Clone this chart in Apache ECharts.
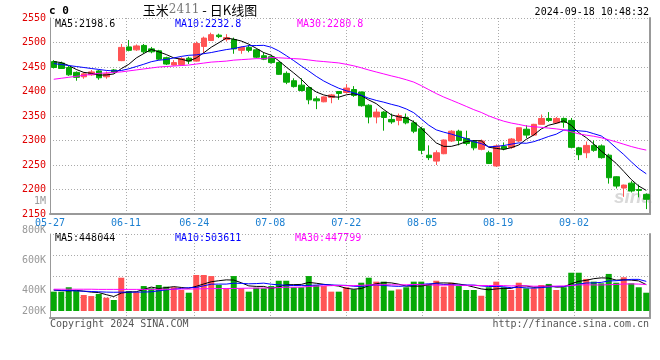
<!DOCTYPE html>
<html><head><meta charset="utf-8">
<script src="https://cdn.jsdelivr.net/npm/echarts@6/dist/echarts.min.js"></script>
<style>html,body{margin:0;padding:0;background:#fff}#c{width:660px;height:360px}</style>
</head><body><div id="c"></div>
<script>
const dates = ['05-27','05-28','05-29','05-30','05-31','06-03','06-04','06-05','06-06','06-07',
'06-11','06-12','06-13','06-14','06-17','06-18','06-19','06-20','06-21','06-24',
'06-25','06-26','06-27','06-28','07-01','07-02','07-03','07-04','07-05','07-08',
'07-09','07-10','07-11','07-12','07-15','07-16','07-17','07-18','07-19','07-22',
'07-23','07-24','07-25','07-26','07-29','07-30','07-31','08-01','08-02','08-05',
'08-06','08-07','08-08','08-09','08-12','08-13','08-14','08-15','08-16','08-19',
'08-20','08-21','08-22','08-23','08-26','08-27','08-28','08-29','08-30','09-02',
'09-03','09-04','09-05','09-06','09-09','09-10','09-11','09-12','09-13','09-18'];
const opens = [2461,2458,2449,2439,2430,2434,2442,2430,2444,2463,
2491,2485,2494,2487,2483,2469,2454,2455,2468,2462,
2492,2504,2515,2506,2506,2484,2490,2485,2473,2471,
2459,2437,2422,2413,2408,2385,2379,2388,2400,2398,
2404,2399,2372,2348,2358,2343,2341,2347,2336,2324,
2270,2258,2273,2299,2319,2304,2298,2282,2275,2248,
2288,2286,2299,2323,2311,2333,2345,2336,2345,2341,
2285,2275,2290,2289,2270,2226,2203,2213,2200,2190];
const closes = [2449,2447,2434,2429,2436,2440,2428,2436,2439,2490,
2484,2493,2481,2481,2466,2456,2459,2467,2462,2498,
2509,2516,2512,2510,2487,2490,2484,2470,2466,2459,
2435,2419,2410,2402,2383,2381,2389,2393,2396,2407,
2392,2371,2348,2358,2347,2338,2351,2336,2319,2280,
2265,2275,2301,2319,2300,2294,2285,2299,2253,2289,
2283,2303,2326,2311,2333,2345,2341,2345,2337,2286,
2271,2290,2280,2265,2224,2207,2209,2197,2198,2180];
const lows = [2447,2446,2432,2422,2426,2432,2424,2426,2437,2462,
2482,2483,2477,2478,2464,2454,2453,2453,2456,2461,
2478,2503,2509,2502,2477,2477,2480,2468,2464,2457,
2434,2415,2408,2400,2374,2364,2378,2376,2383,2396,
2389,2369,2335,2335,2320,2334,2331,2333,2315,2272,
2260,2250,2272,2297,2290,2290,2280,2280,2252,2246,
2280,2283,2297,2305,2309,2333,2338,2334,2326,2284,
2260,2264,2277,2263,2212,2202,2185,2194,2184,2160];
const highs = [2464,2461,2452,2441,2439,2444,2444,2441,2446,2497,
2505,2496,2497,2491,2485,2471,2464,2470,2471,2502,
2512,2520,2518,2517,2510,2492,2495,2487,2480,2475,
2461,2441,2427,2427,2410,2390,2390,2395,2401,2415,
2411,2400,2374,2365,2360,2355,2355,2355,2341,2328,
2290,2280,2302,2321,2322,2320,2301,2302,2279,2292,
2296,2305,2326,2331,2334,2353,2358,2348,2347,2346,
2287,2298,2300,2292,2273,2227,2210,2217,2210,2192];
const volumes = [393000,393000,422000,400000,371000,364000,378000,353000,338000,485000,
397000,389000,430000,415000,437000,426000,422000,404000,386000,503000,
503000,496000,437000,415000,496000,415000,393000,419000,415000,430000,
465000,465000,422000,422000,496000,437000,430000,393000,393000,422000,
408000,452000,485000,459000,459000,400000,408000,422000,459000,459000,
444000,465000,426000,452000,430000,404000,404000,366000,422000,459000,
422000,404000,452000,415000,415000,437000,444000,404000,422000,518000,
518000,477000,459000,448000,510000,452000,488000,448000,422000,386000];
// moving-average values before the window is full
const ma5Head = [2461,2459,2453,2445];
const ma10Head = [2457,2455,2453,2451,2449,2447,2445,2443,2442];
const ma30Head = [2425,2427,2429,2431,2433,2435,2437,2438,2439,2440,2442,2444,2446,2448,2450,2451,2452,2453,2454,2456,2458,2460,2461,2462,2464,2465,2466,2467,2467];
const vma5Head = [404000,400000,398000,402000];
const vma10Head = [404000,402000,400000,398000,396000,394000,392000,390000,389000];
const vma30Head = [409000,409000,409000,409000,409000,409000,408000,408000,408000,408000,408000,408000,408000,408000,408000,409000,409000,410000,410000,411000,412000,413000,413000,414000,414000,415000,416000,416000,417000];
const tickDates = ['05-27','06-11','06-24','07-08','07-22','08-05','08-19','09-02'];
const volLabelValues = [400000,600000,800000];
const maLabels = ['MA5:2198.6','MA10:2232.8','MA30:2280.8'];
const volMaLabels = ['MA5:448044','MA10:503611','MA30:447799'];

function movingAvg(arr, n, head, digits){
  return arr.map((_, i) => {
    if (i < n - 1) return head[i];
    let s = 0; for (let k = i - n + 1; k <= i; k++) s += arr[k];
    return +(s / n).toFixed(digits);
  });
}
const candles = dates.map((d, i) => [opens[i], closes[i], lows[i], highs[i]]);
const UP = '#ff5454', DOWN = '#06a806';
const MONO = '"DejaVu Sans Mono", monospace';
const tickIdx = new Set(tickDates.map(d => dates.indexOf(d)));
const showTick = (i) => tickIdx.has(i);
const dotted = {color:'#aaa', type:[1,2], width:1};

const chart = echarts.init(document.getElementById('c'), null, {renderer:'canvas'});
chart.setOption({
  animation:false,
  backgroundColor:'#fff',
  grid:[
    {left:50, top:18, width:600, height:196},
    {left:50, top:230, width:600, height:81},
    {left:50, top:234, width:600, height:84}
  ],
  xAxis:[
    {type:'category', gridIndex:0, data:dates, boundaryGap:true, show:false},
    {type:'category', gridIndex:0, data:dates, boundaryGap:false, position:'bottom',
      axisLine:{show:true, lineStyle:{color:'#999', width:2}}, axisTick:{show:false},
      axisLabel:{interval:(i)=>showTick(i), color:'#1b7fd1', fontFamily:MONO, fontSize:10, margin:4},
      splitLine:{show:true, interval:(i)=>showTick(i), lineStyle:dotted}},
    {type:'category', gridIndex:1, data:dates, boundaryGap:true, show:false},
    {type:'category', gridIndex:2, data:dates, boundaryGap:false, position:'bottom',
      axisLine:{show:true, lineStyle:{color:'#999', width:2}}, axisTick:{show:false},
      axisLabel:{show:false},
      splitLine:{show:true, interval:(i)=>showTick(i), lineStyle:dotted}}
  ],
  yAxis:[
    {type:'value', gridIndex:0, min:2150, max:2550, interval:50, position:'left',
      axisLine:{show:true, lineStyle:{color:'#999'}}, axisTick:{show:false},
      axisLabel:{formatter:(v)=>String(v), color:'#e00000', fontFamily:MONO, fontSize:10, margin:4},
      splitLine:{show:true, lineStyle:dotted}},
    {type:'value', gridIndex:0, min:2150, max:2550, position:'right',
      axisLine:{show:true, lineStyle:{color:'#999', width:2}}, axisTick:{show:false},
      axisLabel:{show:false}, splitLine:{show:false}},
    {type:'value', gridIndex:1, min:265300, max:800000, position:'left',
      axisLine:{show:false}, axisTick:{show:false}, splitLine:{show:false},
      axisLabel:{customValues:volLabelValues, formatter:(v)=>Math.round(v/1000)+'K', color:'#999', fontFamily:MONO, fontSize:10, margin:4}},
    {type:'value', gridIndex:2, min:0, max:4, interval:1, position:'left',
      axisLine:{show:true, lineStyle:{color:'#999'}}, axisTick:{show:false},
      axisLabel:{show:false}, splitLine:{show:true, lineStyle:dotted}},
    {type:'value', gridIndex:2, min:0, max:4, position:'right',
      axisLine:{show:true, lineStyle:{color:'#999', width:2}}, axisTick:{show:false},
      axisLabel:{show:false}, splitLine:{show:false}}
  ],
  series:[
    {type:'candlestick', xAxisIndex:0, yAxisIndex:0, data:candles, barWidth:6,
      itemStyle:{color:UP, color0:DOWN, borderColor:UP, borderColor0:DOWN, borderWidth:1}},
    {type:'line', xAxisIndex:0, yAxisIndex:0, data:movingAvg(closes,5,ma5Head,1), symbol:'none', lineStyle:{color:'#000', width:1}},
    {type:'line', xAxisIndex:0, yAxisIndex:0, data:movingAvg(closes,10,ma10Head,1), symbol:'none', lineStyle:{color:'#0000ff', width:1}},
    {type:'line', xAxisIndex:0, yAxisIndex:0, data:movingAvg(closes,30,ma30Head,1), symbol:'none', lineStyle:{color:'#ff00ff', width:1}},
    {type:'bar', xAxisIndex:2, yAxisIndex:2, data:volumes, barWidth:6,
      itemStyle:{color:(p)=> closes[p.dataIndex] >= opens[p.dataIndex] ? UP : DOWN}},
    {type:'line', xAxisIndex:2, yAxisIndex:2, data:movingAvg(volumes,5,vma5Head,0), symbol:'none', lineStyle:{color:'#000', width:1}},
    {type:'line', xAxisIndex:2, yAxisIndex:2, data:movingAvg(volumes,10,vma10Head,0), symbol:'none', lineStyle:{color:'#0000ff', width:1}},
    {type:'line', xAxisIndex:2, yAxisIndex:2, data:movingAvg(volumes,30,vma30Head,0), symbol:'none', lineStyle:{color:'#ff00ff', width:1}}
  ],
  graphic:[
    {type:'text', z:0, x:652, y:198, style:{text:'sina', font:'italic bold 19px "Liberation Sans", Arial', fill:'#d9d9d9', textAlign:'right', textVerticalAlign:'middle'}},
    {type:'text', x:49, y:11, style:{text:'c 0', font:'bold 11px "DejaVu Sans Mono"', fill:'#000', textVerticalAlign:'middle'}},
    {type:'text', x:200, y:10, style:{text:'{a|玉米}{b|2411}{a| - 日K线图}', textAlign:'center', textVerticalAlign:'middle',
      rich:{a:{fontSize:13, fontFamily:'"Noto Sans CJK SC"', fill:'#000'}, b:{fontSize:12, fontFamily:'"DejaVu Serif"', fill:'#777'}}}},
    {type:'text', x:649, y:12, style:{text:'2024-09-18 10:48:32', font:'10px "DejaVu Sans Mono"', fill:'#000', textAlign:'right', textVerticalAlign:'middle'}},
    {type:'text', x:55, y:24, style:{text:maLabels[0], font:'10px "DejaVu Sans Mono"', fill:'#000', textVerticalAlign:'middle'}},
    {type:'text', x:175, y:24, style:{text:maLabels[1], font:'10px "DejaVu Sans Mono"', fill:'#0000ff', textVerticalAlign:'middle'}},
    {type:'text', x:297, y:24, style:{text:maLabels[2], font:'10px "DejaVu Sans Mono"', fill:'#ff00ff', textVerticalAlign:'middle'}},
    {type:'text', x:55, y:238, style:{text:volMaLabels[0], font:'10px "DejaVu Sans Mono"', fill:'#000', textVerticalAlign:'middle'}},
    {type:'text', x:175, y:238, style:{text:volMaLabels[1], font:'10px "DejaVu Sans Mono"', fill:'#0000ff', textVerticalAlign:'middle'}},
    {type:'text', x:295, y:238, style:{text:volMaLabels[2], font:'10px "DejaVu Sans Mono"', fill:'#ff00ff', textVerticalAlign:'middle'}},
    {type:'text', x:46, y:201, style:{text:'1M', font:'10px "DejaVu Sans Mono"', fill:'#999', textAlign:'right', textVerticalAlign:'middle'}},
    {type:'text', x:46, y:311, style:{text:'200K', font:'10px "DejaVu Sans Mono"', fill:'#999', textAlign:'right', textVerticalAlign:'middle'}},
    {type:'text', x:50, y:324, style:{text:'Copyright 2024 SINA.COM', font:'10px "DejaVu Sans Mono"', fill:'#555', textVerticalAlign:'middle'}},
    {type:'text', x:649, y:324, style:{text:'http://finance.sina.com.cn', font:'10px "DejaVu Sans Mono"', fill:'#555', textAlign:'right', textVerticalAlign:'middle'}}
  ]
});
</script></body></html>
